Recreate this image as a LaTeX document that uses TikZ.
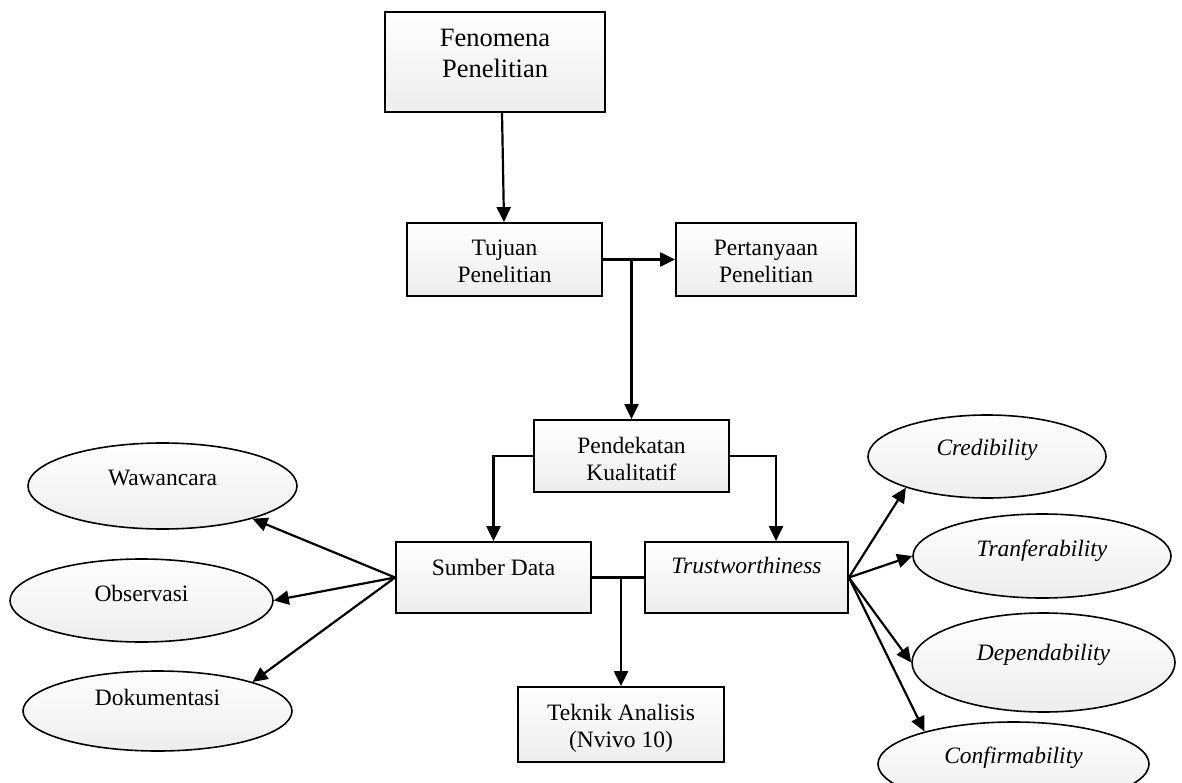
\documentclass[tikz,border=0pt]{standalone}
\usepackage{fontspec}
\setmainfont{Liberation Serif}
\usetikzlibrary{shapes.geometric,arrows.meta}
\newcommand{\twoline}[1]{\begin{tabular}[t]{@{}c@{}}#1\end{tabular}}
\tikzset{
  stdfont/.style={font=\fontsize{23.5}{27}\selectfont},
  boxbase/.style={draw, line width=1.8pt, top color=white, bottom color=black!7,
    inner xsep=0pt, inner ysep=0pt, stdfont},
  ov/.style={ellipse, draw, line width=1.6pt, top color=white, bottom color=black!7,
    inner sep=0pt, stdfont},
  arr/.style={line width=2.2pt, -{Triangle[length=15pt,width=14pt]}},
  ln/.style={line width=2.2pt},
}
\begin{document}
\begin{tikzpicture}[x=1pt,y=-1pt]
\useasboundingbox (0,0) rectangle (1182,783);

% boxes
\node[boxbase, font=\fontsize{26.5}{31}\selectfont, minimum width=220pt, text height=35pt, text depth=65pt]
  (fen) at (495,62) {\twoline{Fenomena\\Penelitian}};
\node[boxbase, minimum width=195pt, text height=33pt, text depth=40pt]
  (tuj) at (504.5,259.5) {\twoline{Tujuan\\Penelitian}};
\node[boxbase, minimum width=180pt, text height=33pt, text depth=40pt]
  (per) at (766,259.5) {\twoline{Pertanyaan\\Penelitian}};
\node[boxbase, minimum width=195pt, text height=33pt, text depth=39pt]
  (pen) at (631.5,456) {\twoline{Pendekatan\\Kualitatif}};
\node[boxbase, minimum width=195pt, text height=33pt, text depth=38pt]
  (sd) at (493.5,577.5) {Sumber Data};
\node[boxbase, minimum width=203pt, text height=31pt, text depth=40pt]
  (tru) at (746.5,577.5) {\itshape Trustworthiness};
\node[boxbase, minimum width=206pt, text height=33pt, text depth=42pt]
  (tek) at (621,724.5) {\twoline{Teknik Analisis\\(Nvivo 10)}};

% ellipses
\node[ov, minimum width=269pt, minimum height=86pt, text height=0pt, text depth=2pt]
  (waw) at (162.5,486) {Wawancara};
\node[ov, minimum width=263pt, minimum height=83pt, text height=1pt, text depth=0pt]
  (obs) at (141.5,600.5) {Observasi};
\node[ov, minimum width=269pt, minimum height=80pt, text height=0pt, text depth=12pt]
  (doc) at (157.5,711) {Dokumentasi};
\node[ov, minimum width=238pt, minimum height=83pt, text height=0pt, text depth=3pt]
  (cred) at (987,456.5) {\itshape Credibility};
\node[ov, minimum width=258pt, minimum height=84pt, text height=0pt, text depth=0pt]
  (tra) at (1042,556) {\itshape Tranferability};
\node[ov, minimum width=263pt, minimum height=99pt, text height=0pt, text depth=5pt]
  (dep) at (1043.5,662.5) {\itshape Dependability};
\node[ov, minimum width=271pt, minimum height=84pt, text height=0pt, text depth=2pt]
  (con) at (1013.5,764) {\itshape Confirmability};

% connectors
\draw[arr] ([xshift=7pt]fen.south) -- ([xshift=-0.5pt]tuj.north);
\draw[arr] (tuj.east) -- (per.west);
\draw[arr] (tuj.east -| pen.north) -- (pen.north);
\draw[arr] (pen.west) -| (sd.north);
\draw[arr] (pen.east) -| ([xshift=29.5pt]tru.north);
\draw[ln] (sd.east) -- (tru.west);
\draw[arr] (sd.east -| tek.north) -- (tek.north);

\draw[arr] (sd.west) -- (waw.-20);
\draw[arr] (sd.west) -- (obs.east);
\draw[arr] (sd.west) -- (doc.17);

\draw[arr] (tru.east) -- (cred.-159);
\draw[arr] (tru.east) -- (tra.west);
\draw[arr] (tru.east) -- (dep.west);
\draw[arr] (tru.east) -- (con.160);
\end{tikzpicture}
\end{document}
